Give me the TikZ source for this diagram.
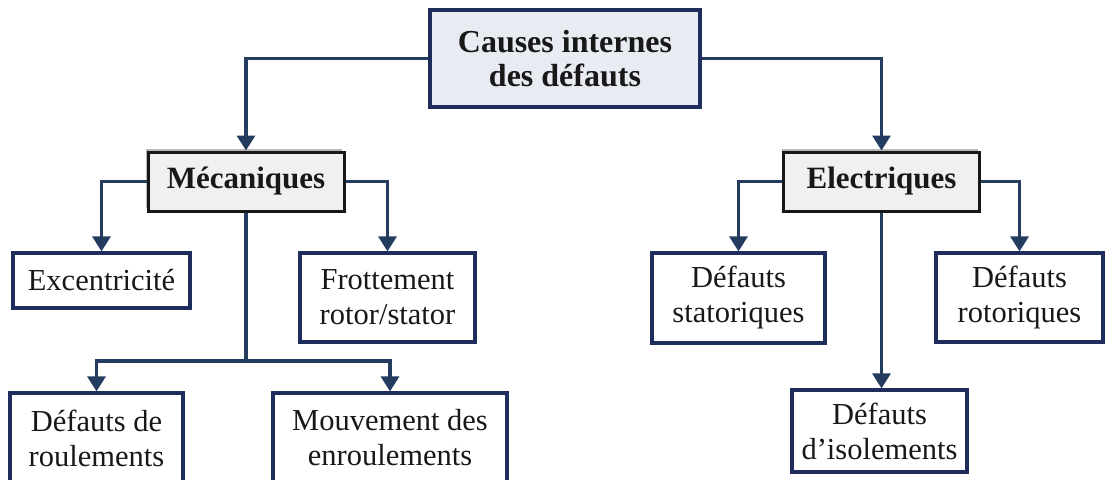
\documentclass[tikz,border=0pt]{standalone}
\usepackage{fontspec}
\setmainfont{Liberation Serif}
\usetikzlibrary{arrows.meta,shadows}

\definecolor{linkblue}{RGB}{36,60,96}
\definecolor{boxnavy}{RGB}{30,45,92}
\definecolor{rootfill}{RGB}{232,236,242}
\definecolor{catfill}{RGB}{240,240,240}
\definecolor{inkdark}{RGB}{24,24,24}

\tikzset{
  rootbox/.style={draw=boxnavy, line width=3.2pt, fill=rootfill,
    minimum width=270pt, minimum height=97pt, align=center,
    text=inkdark, font=\fontsize{32}{34}\selectfont\bfseries},
  catbox/.style={draw=inkdark, line width=3pt, fill=catfill,
    minimum width=196pt, minimum height=59pt, align=center,
    text=inkdark, font=\fontsize{31}{34}\selectfont\bfseries,
    drop shadow={shadow xshift=-2pt, shadow yshift=3pt, fill=black!35, opacity=0.8}},
  leafbox/.style={draw=boxnavy, line width=3.2pt, fill=white,
    align=center, text=inkdark, inner sep=0pt,
    font=\fontsize{30.5}{35}\selectfont},
  link/.style={draw=linkblue, line width=3.2pt},
  linkarrow/.style={link, -{Triangle[width=18pt,length=15pt]}},
}

\begin{document}
\begin{tikzpicture}[x=1pt,y=-1pt]
\useasboundingbox (0,0) rectangle (1105,479);

% top level
\node[rootbox] (root) at (565,58.5) {Causes internes\\des défauts};

% categories
\node[catbox] (mec) at (246,181.5) {Mécaniques};
\node[catbox] (ele) at (881.5,181.5) {Electriques};

% mechanical causes
\node[leafbox, minimum width=177pt, minimum height=55pt] (exc) at (101.5,280.5) {Excentricité};
\node[leafbox, minimum width=175pt, minimum height=89pt] (fro) at (387.5,297.5) {Frottement\\rotor/stator};
\node[leafbox, minimum width=173pt, minimum height=90pt] (rou) at (96.5,438) {Défauts de\\roulements};
\node[leafbox, minimum width=234pt, minimum height=90pt] (mou) at (390,438) {Mouvement des\\enroulements};

% electrical causes
\node[leafbox, minimum width=173pt, minimum height=90pt] (sta) at (738.5,298) {Défauts\\statoriques};
\node[leafbox, minimum width=167pt, minimum height=89pt] (rot) at (1019.5,297.5) {Défauts\\rotoriques};
\node[leafbox, minimum width=175pt, minimum height=82pt] (iso) at (879.5,431) {Défauts\\d'isolements};

% connectors
\draw[linkarrow] (root.west) -| (mec.north);
\draw[linkarrow] (root.east) -| (ele.north);

\draw[linkarrow] (mec.west) -| (exc.north);
\draw[linkarrow] (mec.east) -| (fro.north);
\coordinate (split) at (mec.south |- 0,361);
\draw[link] (mec.south) -- (split);
\draw[linkarrow] (split) -| (rou.north);
\draw[linkarrow] (split) -| (mou.north);

\draw[linkarrow] (ele.west) -| (sta.north);
\draw[linkarrow] (ele.east) -| (rot.north);
\draw[linkarrow] (ele.south) -- (ele.south |- iso.north);
\end{tikzpicture}
\end{document}
